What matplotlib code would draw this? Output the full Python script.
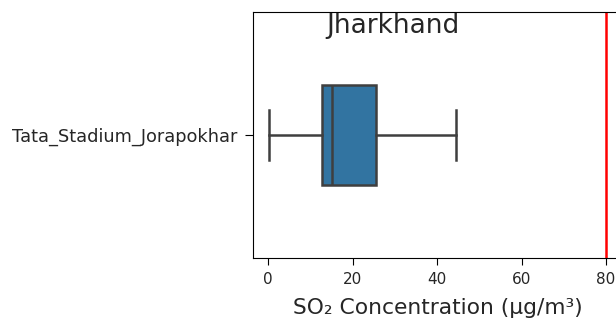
import matplotlib
matplotlib.use("Agg")
import matplotlib.pyplot as plt

categories = ["Tata_Stadium_Jorapokhar"]
whisker_low = [0.3]
q1 = [12.7]
median = [15.0]
q3 = [25.6]
whisker_high = [44.4]
limit_value = 80
title = "Jharkhand"
xlabel = "SO₂ Concentration (μg/m³)"

text_col = "#262626"
fig = plt.figure(figsize=(6.16, 3.24), dpi=100)
ax = fig.add_axes([253/616, 66/324, (623-253)/616, (312-66)/324])

stats = []
for i, c in enumerate(categories):
    stats.append(dict(med=median[i], q1=q1[i], q3=q3[i], whislo=whisker_low[i],
                      whishi=whisker_high[i], fliers=[], label=c))

line_col = "#3f3f3f"
ax.bxp(stats, positions=list(range(len(categories))), vert=False, widths=0.41,
       patch_artist=True, showfliers=False,
       boxprops=dict(facecolor="#3274a1", edgecolor=line_col, linewidth=1.8),
       medianprops=dict(color=line_col, linewidth=1.8),
       whiskerprops=dict(color=line_col, linewidth=1.8),
       capprops=dict(color=line_col, linewidth=1.8))
ax.set_ylim(0.5, -0.5)
ax.axvline(limit_value, color="red", linewidth=1.8)
ax.set_xlim(-3.6, 84)
ax.set_xticks([0, 20, 40, 60, 80])
ax.tick_params(axis="x", labelsize=11, length=5, pad=5, labelcolor=text_col)
ax.tick_params(axis="y", labelsize=12.8, length=6, pad=5, labelcolor=text_col)
ax.set_yticks(range(len(categories)))
ax.set_yticklabels(categories)
ax.set_xlabel(xlabel, fontsize=15.7, labelpad=8, color=text_col)
fig.text(393/616, 1 - 26/324, title, ha="center", va="center", fontsize=19,
         color=text_col)

fig.savefig("out.png", dpi=100)
